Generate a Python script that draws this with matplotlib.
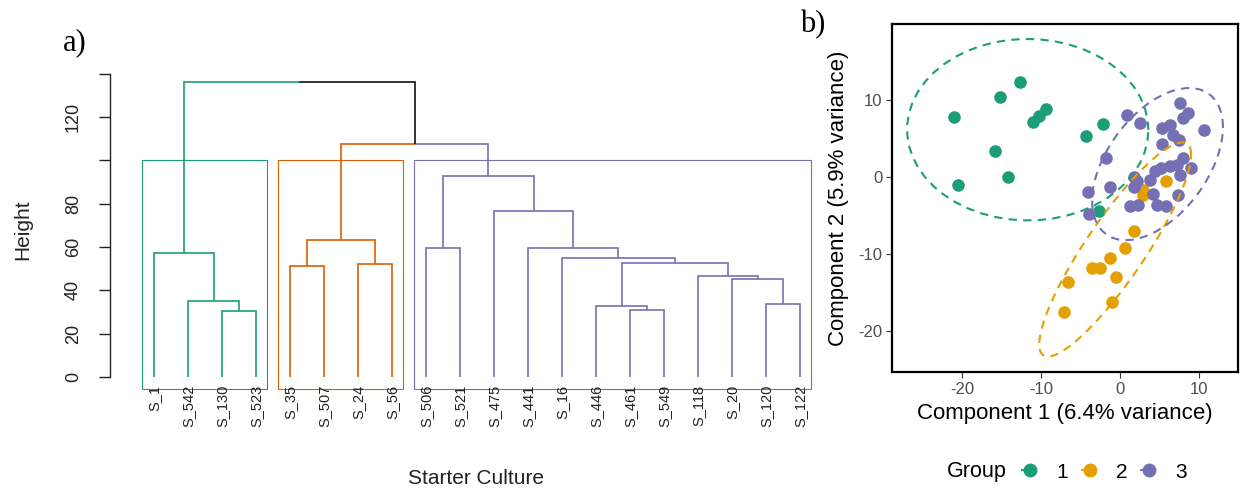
import numpy as np
import matplotlib
matplotlib.use('Agg')
import matplotlib.pyplot as plt
from matplotlib.lines import Line2D
from matplotlib.patches import Rectangle
import matplotlib.transforms as mtransforms

plt.rcParams['font.family'] = ['Liberation Sans', 'DejaVu Sans']
plt.rcParams['axes.unicode_minus'] = False

# ---------------- data: dendrogram (hclust-style merges) ----------------
leaf_labels = ['S_1', 'S_542', 'S_130', 'S_523', 'S_35', 'S_507', 'S_24', 'S_56',
               'S_506', 'S_521', 'S_475', 'S_441', 'S_16', 'S_446', 'S_461', 'S_549',
               'S_118', 'S_20', 'S_120', 'S_122']
# negative = leaf (1-based), positive = earlier merge (1-based)
merge_left = [-3, -2, -1, -5, -7, 4, -15, -14, -19, -18, -17, 8, -13, -12, -9, -11, 15, 6, 3]
merge_right = [-4, 1, 2, -6, -8, 5, -16, 7, -20, 9, 10, 11, 12, 13, -10, 14, 16, 17, 18]
merge_height = [30.6, 35.2, 57.1, 51.4, 52.1, 63.1, 30.9, 32.9, 33.5, 45.2, 46.6, 52.8,
                54.7, 59.4, 59.5, 76.8, 92.9, 107.4, 136.0]
k_clusters = 3
cluster_colors = ['#1B9E77', '#D95F02', '#7570B3']
dend_yticks = [0, 20, 40, 60, 80, 100, 120, 140]
dend_yticklabels = ['0', '20', '40', '60', '80', '', '120', '']

# ---------------- data: PCA scatter ----------------
g1_x = [-21.1, -20.6, -15.9, -15.2, -14.2, -12.7, -11.1, -10.3, -9.4, -4.3, -2.2, -2.7]
g1_y = [7.8, -1.1, 3.4, 10.4, 0.0, 12.3, 7.2, 7.9, 8.9, 5.3, 6.9, -4.5]
g2_x = [1.7, 0.6, -1.3, -3.6, -2.6, -0.5, -6.6, -1.0, -7.1, 2.9, 2.9, 5.8]
g2_y = [-7.0, -9.2, -10.6, -11.9, -11.9, -13.0, -13.7, -16.3, -17.6, -1.7, -2.4, -0.5]
g3_x = [7.5, 8.6, 8.0, 0.9, 2.5, 10.6, 5.3, 6.3, 6.7, 7.4, 5.3, -1.8, 8.0, 6.3, 7.2, 5.1,
        8.9, 4.4, 7.6, 3.8, 1.7, 2.1, 1.7, -1.3, -4.1, 4.1, 7.3, 1.2, 2.3, 4.6, 5.8, -3.9]
g3_y = [9.6, 8.3, 7.7, 8.0, 7.0, 6.1, 6.3, 6.8, 5.5, 4.8, 4.3, 2.5, 2.4, 1.4, 1.6, 1.1,
        1.1, 0.8, 0.3, -0.4, 0.0, -0.6, -1.3, -1.3, -2.0, -2.2, -2.3, -3.8, -3.7, -3.7, -3.8, -4.8]
group_names = ['1', '2', '3']
group_colors = ['#1B9E77', '#E69F00', '#7570B3']
pca_xticks = [-20, -10, 0, 10]
pca_yticks = [-20, -10, 0, 10]

W, H = 1243, 493
fig = plt.figure(figsize=(W / 100, H / 100), dpi=100)

# =============== panel a: dendrogram ===============
n = len(leaf_labels)
hmax = max(merge_height)
xlim = (0.5 - 0.04 * n, n + 0.5 + 0.04 * n)
ylim = (-0.04 * hmax, hmax * 1.04)
ax1 = fig.add_axes([109.8 / W, (H - 388.8) / H, (844.2 - 109.8) / W, (388.8 - 70.5) / H])
ax1.set_xlim(*xlim)
ax1.set_ylim(*ylim)

nm = len(merge_height)
node_x = [0.0] * nm
node_leaves = [None] * nm


def ref_info(r):
    if r < 0:
        return float(-r), 0.0, {-r}
    return node_x[r - 1], merge_height[r - 1], node_leaves[r - 1]


for i in range(nm):
    xl, _, ll = ref_info(merge_left[i])
    xr, _, lr = ref_info(merge_right[i])
    node_x[i] = (xl + xr) / 2
    node_leaves[i] = ll | lr

sorted_h = sorted(merge_height, reverse=True)
cut = (sorted_h[k_clusters - 2] + sorted_h[k_clusters - 1]) / 2

# cluster roots: height < cut whose parent >= cut
roots = []
for i in range(nm):
    if merge_height[i] >= cut:
        for r in (merge_left[i], merge_right[i]):
            _, h, lv = ref_info(r)
            if h < cut:
                roots.append(lv)
roots.sort(key=lambda s: min(s))
leaf_cluster = {}
for ci, lv in enumerate(roots):
    for l in lv:
        leaf_cluster[l] = ci


def edge_color(r):
    _, _, lv = ref_info(r)
    cl = {leaf_cluster[l] for l in lv}
    if len(cl) == 1:
        return cluster_colors[cl.pop()]
    return '#111111'


for i in range(nm):
    xn, hn = node_x[i], merge_height[i]
    for r in (merge_left[i], merge_right[i]):
        xc, hc, _ = ref_info(r)
        ax1.plot([xn, xc, xc], [hn, hn, hc], color=edge_color(r), lw=1.2,
                 solid_capstyle='butt', solid_joinstyle='miter', zorder=3)

for ci, lv in enumerate(roots):
    left = min(lv) - 0.34
    right = max(lv) + 0.33
    ax1.add_patch(Rectangle((left, ylim[0]), right - left, cut - ylim[0], fill=False,
                            edgecolor=cluster_colors[ci], lw=0.8, clip_on=False, zorder=2))

lab_tr = mtransforms.offset_copy(ax1.transData, fig=fig, y=-8, units='dots')
for i, lab in enumerate(leaf_labels):
    ax1.text(i + 1, 0, lab, rotation=90, ha='center', va='top', fontsize=10.5,
             color='#222222', transform=lab_tr)

for s in ['top', 'right', 'bottom']:
    ax1.spines[s].set_visible(False)
ax1.spines['left'].set_bounds(dend_yticks[0], dend_yticks[-1])
ax1.spines['left'].set_color('#222222')
ax1.spines['left'].set_linewidth(1.0)
ax1.set_xticks([])
ax1.set_yticks(dend_yticks)
ax1.set_yticklabels(dend_yticklabels, rotation=90, va='center', fontsize=13, color='#222222')
ax1.tick_params(axis='y', length=8, width=1.0, color='#222222', pad=12)

fig.text(23 / W, 1 - 230 / H, 'Height', rotation=90, ha='center', va='center', fontsize=15,
         color='#222222')
fig.text(476 / W, 1 - 478 / H, 'Starter Culture', ha='center', va='center', fontsize=15,
         color='#222222')
fig.text(63 / W, 1 - 50 / H, 'a)', family=['Liberation Serif', 'DejaVu Serif'], fontsize=22,
         va='baseline', ha='left')
fig.text(800 / W, 1 - 32 / H, 'b)', family=['Liberation Serif', 'DejaVu Serif'], fontsize=22,
         va='baseline', ha='left')

# =============== panel b: PCA ===============
ax2 = fig.add_axes([892 / W, (H - 372) / H, 346 / W, 348 / H])
ax2.set_xlim(-28.9, 14.9)
ax2.set_ylim(-25.4, 19.9)


def cov_trob(x, nu=5, maxit=25, tol=0.01):
    nn, p = x.shape
    wt = np.ones(nn)
    loc = x.mean(axis=0)
    w = np.sqrt(wt)
    X = x - loc
    for _ in range(maxit):
        w0 = w
        X = x - loc
        _, d, vt = np.linalg.svd(np.sqrt(w / w.sum())[:, None] * X, full_matrices=False)
        wX = X @ vt.T @ np.diag(1 / d)
        Q = (wX ** 2).sum(axis=1)
        w = wt * (nu + p) / (nu + Q)
        loc = (w[:, None] * x).sum(axis=0) / w.sum()
        if np.all(np.abs(w - w0) < tol):
            break
    sw = np.sqrt(w)[:, None] * X
    return loc, sw.T @ sw / wt.sum()


def ellipse_path(xs, ys, level=0.95, segments=51):
    data = np.column_stack([xs, ys])
    dfn = 2
    dfd = len(xs) - 1
    center, shape = cov_trob(data)
    U = np.linalg.cholesky(shape).T
    fq = dfd / 2 * ((1 - level) ** (-2 / dfd) - 1)
    radius = np.sqrt(dfn * fq)
    ang = np.arange(segments + 1) * 2 * np.pi / segments
    uc = np.column_stack([np.cos(ang), np.sin(ang)])
    e = center + radius * (uc @ U)
    return e[:, 0], e[:, 1]


groups = [(g1_x, g1_y), (g2_x, g2_y), (g3_x, g3_y)]
for (gx, gy), c in zip(groups, group_colors):
    ax2.scatter(gx, gy, s=82, color=c, linewidths=0, zorder=2)
for (gx, gy), c in zip(groups, group_colors):
    ex, ey = ellipse_path(gx, gy)
    ax2.plot(ex, ey, color=c, lw=1.5, linestyle=(0, (4, 3)), zorder=3)

for s in ax2.spines.values():
    s.set_linewidth(1.6)
    s.set_color('black')
ax2.set_xticks(pca_xticks)
ax2.set_yticks(pca_yticks)
ax2.tick_params(length=4, width=0.8, color='#333333', labelsize=12, labelcolor='#4D4D4D', pad=3)
ax2.set_xlabel('Component 1 (6.4% variance)', fontsize=16, color='black')
ax2.set_ylabel('Component 2 (5.9% variance)', fontsize=16, color='black')
ax2.xaxis.set_label_coords(0.5, -(403 - 372) / 348)
ax2.yaxis.set_label_coords((849 - 892) / 346, 0.5)

handles = [Line2D([0], [0], color=c, marker='o', markersize=9, lw=1.4,
                  linestyle=(0, (3, 2))) for c in group_colors]
fig.legend(handles, group_names, ncol=3, loc='center left',
           bbox_to_anchor=(1021 / W, 1 - 472 / H), frameon=False, fontsize=15,
           handlelength=0.9, handletextpad=0.8, columnspacing=0.6, borderpad=0,
           borderaxespad=0)
fig.text(947 / W, 1 - 472 / H, 'Group', fontsize=15.5, va='center', ha='left')

fig.savefig('out.png', dpi=100)
